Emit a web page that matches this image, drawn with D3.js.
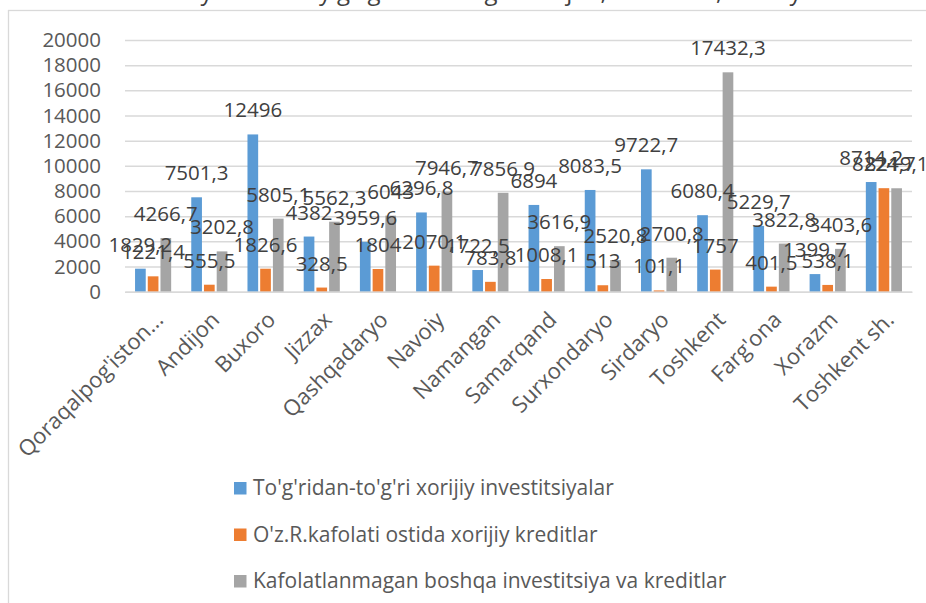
<!DOCTYPE html>
<html lang="uz">
<script src='https://d3js.org/d3.v7.min.js'></script>
<head>
    <meta charset="UTF-8">
    <title>Hududlar bo'yicha xorijiy investitsiyalar</title>
    <style>
        body { margin: 0; background: #fff; }
        text { font-family: "Open Sans", sans-serif; }
    </style>
</head>
<body onload='init()'>
<svg width=926 height=603></svg>

<script>
    // categories (hududlar)
    var regions = ["Qoraqalpog'iston...", "Andijon", "Buxoro", "Jizzax", "Qashqadaryo", "Navoiy", "Namangan",
        "Samarqand", "Surxondaryo", "Sirdaryo", "Toshkent", "Farg'ona", "Xorazm", "Toshkent sh."];

    var seriesNames = ["To'g'ridan-to'g'ri xorijiy investitsiyalar",
        "O'z.R.kafolati ostida xorijiy kreditlar",
        "Kafolatlanmagan boshqa investitsiya va kreditlar"];

    var directInv = [1829.2, 7501.3, 12496, 4382, 3959.6, 6296.8, 1722.5, 6894, 8083.5, 9722.7, 6080.4, 5229.7, 1399.7, 8714.2];
    var guaranteed = [1221.4, 555.5, 1826.6, 328.5, 1804, 2070.1, 783.8, 1008.1, 513, 101.1, 1757, 401.5, 538.1, 8224.7];
    var otherInv = [4266.7, 3202.8, 5805.1, 5562.3, 6043, 7946.7, 7856.9, 3616.9, 2520.8, 2700.8, 17432.3, 3822.8, 3403.6, 8219.1];

    var yTicks = [0, 2000, 4000, 6000, 8000, 10000, 12000, 14000, 16000, 18000, 20000];
    var colors = ["#5b9bd5", "#ed7d31", "#a5a5a5"];

    function init() {
        var series = [directInv, guaranteed, otherInv];
        var rows = [];
        regions.forEach(function (r, i) {
            series.forEach(function (s, j) {
                rows.push({region: r, key: j, value: s[i]});
            });
        });
        drawChart(rows);
    }

    function fmt(v) {
        return String(v).replace(".", ",");
    }

    function drawChart(rows) {
        var svg = d3.select("svg");

        // chart frame
        svg.append("rect")
            .attr("x", 8.5).attr("y", 10.5)
            .attr("width", 940).attr("height", 620)
            .attr("fill", "#fff")
            .attr("stroke", "#d9d9d9")
            .attr("stroke-width", 1.3);

        // title, mostly cut off above the picture
        svg.append("text")
            .attr("x", 463).attr("y", 0)
            .attr("text-anchor", "middle")
            .attr("font-size", 24)
            .attr("fill", "#404040")
            .text("Hududiy kesimda yig'ilgan mablag'lar hajmi, mln. doll., 2019 y.");

        var xs = d3.scaleBand().domain(regions).range([125, 912]).padding(0);
        var xin = d3.scaleBand().domain([0, 1, 2]).range([0, xs.bandwidth()])
            .paddingInner(0.16).paddingOuter(0.79);
        var ys = d3.scaleLinear().domain([0, 20000]).range([291.7, 40]);

        // gridlines + y labels
        var yAxis = svg.append("g")
            .attr("transform", "translate(125,0)")
            .call(d3.axisLeft(ys).tickValues(yTicks).tickSize(-787).tickPadding(24).tickFormat(d3.format("d")));
        yAxis.select(".domain").remove();
        yAxis.selectAll("line").attr("stroke", "#d9d9d9").attr("stroke-width", 1.5);
        yAxis.selectAll("text")
            .attr("font-size", 20.5)
            .attr("fill", "#595959")
            .attr("font-family", "Open Sans");

        // bars
        svg.append("g")
            .selectAll("rect")
            .data(rows)
            .enter()
            .append("rect")
            .attr("x", d => xs(d.region) + xin(d.key))
            .attr("y", d => ys(d.value))
            .attr("width", xin.bandwidth())
            .attr("height", d => ys(0) - ys(d.value))
            .attr("fill", d => colors[d.key]);

        // data labels
        svg.append("g")
            .selectAll("text")
            .data(rows)
            .enter()
            .append("text")
            .attr("x", d => xs(d.region) + xin(d.key) + xin.bandwidth() / 2)
            .attr("y", d => ys(d.value) - 17)
            .attr("text-anchor", "middle")
            .attr("font-size", 20.5)
            .attr("fill", "#404040")
            .text(d => fmt(d.value));

        // x axis
        var xAxis = svg.append("g")
            .attr("transform", "translate(0," + ys(0) + ")")
            .call(d3.axisBottom(xs).tickSize(0).tickPadding(0));
        xAxis.select(".domain").attr("stroke", "#d9d9d9").attr("stroke-width", 1.5);
        xAxis.selectAll("text")
            .attr("font-size", 22)
            .attr("fill", "#595959")
            .attr("font-family", "Open Sans")
            .attr("text-anchor", "end")
            .attr("dy", "0.35em")
            .attr("transform", "translate(6,24) rotate(-45)");

        // legend
        var legend = svg.append("g")
            .selectAll("g")
            .data(seriesNames)
            .enter()
            .append("g")
            .attr("transform", (d, i) => "translate(234," + (495 + i * 46.5) + ")");
        legend.append("rect")
            .attr("x", 0).attr("y", -13)
            .attr("width", 12.5).attr("height", 12.5)
            .attr("fill", (d, i) => colors[i]);
        legend.append("text")
            .attr("x", 19).attr("y", 0)
            .attr("font-size", 21)
            .attr("fill", "#595959")
            .text(d => d);
    }
</script>
</body>
</html>
